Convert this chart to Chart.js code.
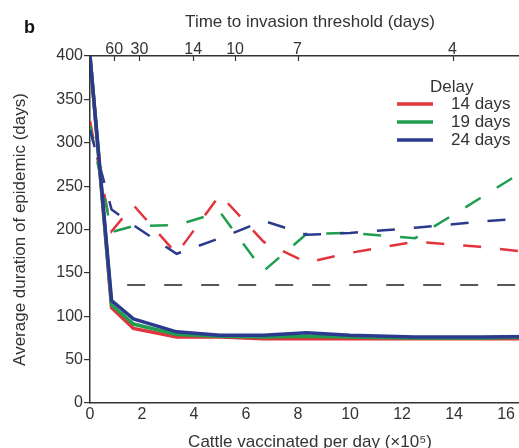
<!DOCTYPE html>
<html>
<head>
<meta charset="utf-8">
<script src="https://cdn.jsdelivr.net/npm/chart.js@4.4.0/dist/chart.umd.min.js"></script>
<style>
  html, body { margin: 0; padding: 0; background: #fff; overflow: hidden; }
  #wrap { width: 530px; height: 448px; position: relative; }
</style>
</head>
<body>
<div id="wrap"><canvas id="durationChart"></canvas></div>
<script>
// 1. Data
const vaccRate = [0, 0.83, 1.67, 3.33, 5, 6.67, 8.33, 10, 12.5, 15, 17.5];

// solid lines
const solid14 = [400, 110, 86, 76, 76, 74, 74, 74, 74, 74, 74];
const solid19 = [400, 113, 91, 79, 77, 76, 77, 76, 75, 75, 76];
const solid24 = [400, 118, 97, 82, 78, 78, 81, 78, 76, 76, 77];

// dashed lines
const dashed14 = [325, 198, 228, 172, 240, 186, 162, 173, 186, 180, 172];
const dashed19 = [320, 197, 204, 205, 220, 152, 195, 196, 190, 236, 283];
const dashed24 = [315, 223, 205, 172, 190, 210, 194, 196, 202, 209, 215];

// black dashed reference line
const thresholdX = [1.43, 17.5];
const thresholdY = [136, 136];

const delayLabels = ['14 days', '19 days', '24 days'];
const delayColors = ['#e2343c', '#1f9e4f', '#2b3a8e'];

// axis ticks
const xTicks = [0, 2, 4, 6, 8, 10, 12, 14, 16];
const topTickPos = [0.93, 1.9, 3.97, 5.58, 7.98, 13.94];
const topTickLabels = ['60', '30', '14', '10', '7', '4'];

const FONT = '"Liberation Sans", Arial, Helvetica, sans-serif';
Chart.defaults.color = '#333';
Chart.defaults.font.family = FONT;

function toPoints(xs, ys) {
    return xs.map((x, i) => ({ x: x, y: ys[i] }));
}

// 2. Legend, panel letter and inward ticks on the top axis
const extras = {
    id: 'extras',
    afterDraw(chart) {
        const ctx = chart.ctx;
        const top = chart.scales.x2;
        ctx.save();
        ctx.strokeStyle = '#333';
        ctx.lineWidth = 1.2;
        top.ticks.forEach(t => {
            const px = Math.round(top.getPixelForValue(t.value)) + 0.5;
            ctx.beginPath();
            ctx.moveTo(px, chart.chartArea.top);
            ctx.lineTo(px, chart.chartArea.top + 5);
            ctx.stroke();
        });

        ctx.font = '17px ' + FONT;
        ctx.fillStyle = '#333';
        ctx.textBaseline = 'middle';
        ctx.fillText('Delay', 430, 87);
        delayLabels.forEach((lab, i) => {
            const y = 104 + i * 18;
            ctx.strokeStyle = delayColors[i];
            ctx.lineWidth = 3.5;
            ctx.beginPath();
            ctx.moveTo(397, y);
            ctx.lineTo(433, y);
            ctx.stroke();
            ctx.fillText(lab, 451, y);
        });

        ctx.font = 'bold 18px ' + FONT;
        ctx.fillStyle = '#111';
        ctx.fillText('b', 24, 28);
        ctx.restore();
    }
};

document.addEventListener("DOMContentLoaded", function() {
    const ctx = document.getElementById('durationChart').getContext('2d');

    const solid = (vals, i) => ({
        data: toPoints(vaccRate, vals),
        borderColor: delayColors[i],
        borderWidth: 3.5,
        pointRadius: 0,
        tension: 0
    });
    const dashed = (vals, i) => ({
        data: toPoints(vaccRate, vals),
        borderColor: delayColors[i],
        borderWidth: 2.5,
        borderDash: [18, 19],
        pointRadius: 0,
        tension: 0
    });

    new Chart(ctx, {
        type: 'line',
        data: {
            datasets: [
                solid(solid24, 2),
                solid(solid19, 1),
                solid(solid14, 0),
                {
                    data: toPoints(thresholdX, thresholdY),
                    borderColor: '#222',
                    borderWidth: 1.4,
                    borderDash: [18, 19],
                    pointRadius: 0
                },
                dashed(dashed24, 2),
                dashed(dashed19, 1),
                dashed(dashed14, 0)
            ]
        },
        options: {
            responsive: true,
            maintainAspectRatio: false,
            animation: false,
            layout: { padding: 0 },
            plugins: {
                legend: { display: false },
                tooltip: { enabled: false }
            },
            scales: {
                x: {
                    type: 'linear',
                    position: 'bottom',
                    min: 0,
                    max: 16.92,
                    afterFit: s => { s.height = 45; },
                    afterBuildTicks: s => { s.ticks = xTicks.map(v => ({ value: v })); },
                    ticks: { autoSkip: false, maxRotation: 0, padding: 2, font: { size: 16 } },
                    grid: { display: false, drawTicks: false },
                    border: { color: '#333', width: 1.5 },
                    title: {
                        display: true,
                        text: 'Cattle vaccinated per day (×10⁵)',
                        font: { size: 17 },
                        padding: { top: 0, bottom: -5 }
                    }
                },
                x2: {
                    type: 'linear',
                    position: 'top',
                    min: 0,
                    max: 16.92,
                    afterFit: s => { s.height = 56; },
                    afterBuildTicks: s => { s.ticks = topTickPos.map(v => ({ value: v })); },
                    ticks: {
                        autoSkip: false,
                        maxRotation: 0,
                        padding: -3,
                        font: { size: 16 },
                        callback: (v, i) => topTickLabels[i]
                    },
                    grid: { display: false, drawTicks: false },
                    border: { color: '#333', width: 1.5 },
                    title: {
                        display: true,
                        text: 'Time to invasion threshold (days)',
                        font: { size: 17 },
                        padding: { top: 12, bottom: 0 }
                    }
                },
                y: {
                    min: 0,
                    max: 400,
                    afterFit: s => { s.width = 90; },
                    ticks: { stepSize: 50, padding: 1, font: { size: 16 } },
                    grid: { drawOnChartArea: false, drawTicks: true, tickLength: 6, color: '#333', lineWidth: 1.2 },
                    border: { color: '#333', width: 1.5 },
                    title: {
                        display: true,
                        text: 'Average duration of epidemic (days)',
                        font: { size: 17 },
                        padding: { top: 10, bottom: 0 }
                    }
                }
            }
        },
        plugins: [extras]
    });
});
</script>
</body>
</html>
